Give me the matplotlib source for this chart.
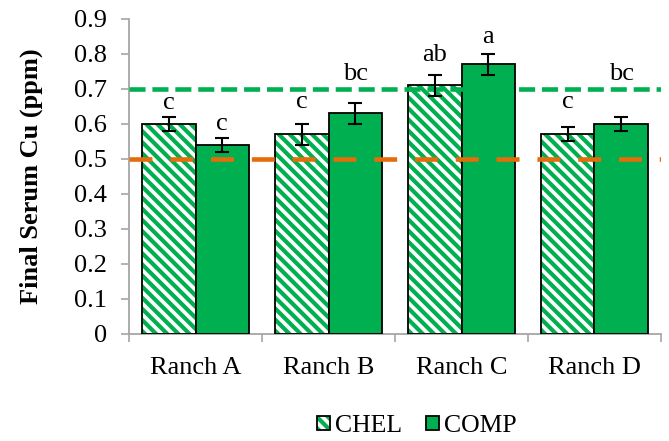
import matplotlib
matplotlib.use("Agg")
import matplotlib.pyplot as plt
import numpy as np
from matplotlib.patches import Patch
from matplotlib.legend_handler import HandlerTuple

categories = ["Ranch A", "Ranch B", "Ranch C", "Ranch D"]
chel = [0.60, 0.57, 0.71, 0.57]
comp = [0.54, 0.63, 0.77, 0.60]
chel_err = [0.02, 0.03, 0.03, 0.02]
comp_err = [0.02, 0.03, 0.03, 0.02]
chel_letters = ["c", "c", "ab", "c"]
comp_letters = ["c", "bc", "a", "bc"]
chel_letter_y = [0.643, 0.646, 0.78, 0.646]
comp_letter_y = [0.583, 0.726, 0.831, 0.726]
upper_ref = 0.70
lower_ref = 0.50
yticks = [0, 0.1, 0.2, 0.3, 0.4, 0.5, 0.6, 0.7, 0.8, 0.9]

GREEN = "#00B050"
ORANGE = "#E46C0A"
GRAY = "#A6A6A6"
HATCH = "\\\\\\"

plt.rcParams["font.family"] = ["Liberation Serif", "DejaVu Serif"]
plt.rcParams["hatch.linewidth"] = 3.0

fig = plt.figure(figsize=(6.69, 4.41), dpi=100)
ax = fig.add_axes([0.193, 0.243, 0.795, 0.714])

x = np.arange(len(categories))
w = 0.40

# CHEL hatched bars
ax.bar(x - w / 2, chel, w, facecolor="white", edgecolor=GREEN, hatch=HATCH, linewidth=0, zorder=2)
ax.bar(x - w / 2, chel, w, facecolor="none", edgecolor="black", linewidth=1.3, zorder=3)
# COMP solid bars
ax.bar(x + w / 2, comp, w, facecolor=GREEN, edgecolor="black", linewidth=1.3, zorder=3)

ax.errorbar(x - w / 2, chel, yerr=chel_err, fmt="none", ecolor="black", elinewidth=1.5, capsize=5, capthick=1.5, zorder=5)
ax.errorbar(x + w / 2, comp, yerr=comp_err, fmt="none", ecolor="black", elinewidth=1.5, capsize=5, capthick=1.5, zorder=5)

ax.axhline(upper_ref, color=GREEN, lw=3.3, dashes=(3.5, 1.5), zorder=4)
ax.axhline(lower_ref, color=ORANGE, lw=3.3, dashes=(5.0, 3.9), zorder=4)

for i in range(len(categories)):
    ax.text(x[i] - w / 2, chel_letter_y[i], chel_letters[i], ha="center", va="baseline", fontsize=19, zorder=6)
    ax.text(x[i] + w / 2, comp_letter_y[i], comp_letters[i], ha="center", va="baseline", fontsize=19, zorder=6)

ax.set_xlim(-0.5, len(categories) - 0.5)
ax.set_ylim(0, 0.9)
ax.set_yticks(yticks)
ax.set_yticklabels(["0" if t == 0 else f"{t:.1f}" for t in yticks])
ax.set_xticks(x)
ax.set_xticklabels(categories)
ax.set_xticks(np.arange(-0.5, len(categories) + 0.5, 1), minor=True)
ax.tick_params(axis="x", which="major", length=0, pad=17, labelsize=19)
ax.tick_params(axis="x", which="minor", length=6, width=1.2, color=GRAY, direction="out")
ax.tick_params(axis="y", length=6, width=1.2, color=GRAY, labelsize=19, pad=10)

for s in ["top", "right"]:
    ax.spines[s].set_visible(False)
for s in ["left", "bottom"]:
    ax.spines[s].set_color(GRAY)
    ax.spines[s].set_linewidth(1.3)

ax.set_ylabel("Final Serum Cu (ppm)", fontsize=19, fontweight="bold", labelpad=22)

h_hatch = Patch(facecolor="white", edgecolor=GREEN, hatch=HATCH, linewidth=0)
h_edge = Patch(facecolor="none", edgecolor="black", linewidth=1.3)
h_comp = Patch(facecolor=GREEN, edgecolor="black", linewidth=1.3)
fig.legend([(h_hatch, h_edge), h_comp], ["CHEL", "COMP"],
           handler_map={tuple: HandlerTuple(ndivide=1)},
           loc="center", bbox_to_anchor=(0.623, 0.034), ncol=2, frameon=False,
           fontsize=18.5, handlelength=0.5, handleheight=0.5, handletextpad=0.2,
           columnspacing=0.95)

fig.savefig("out.png", dpi=100)
